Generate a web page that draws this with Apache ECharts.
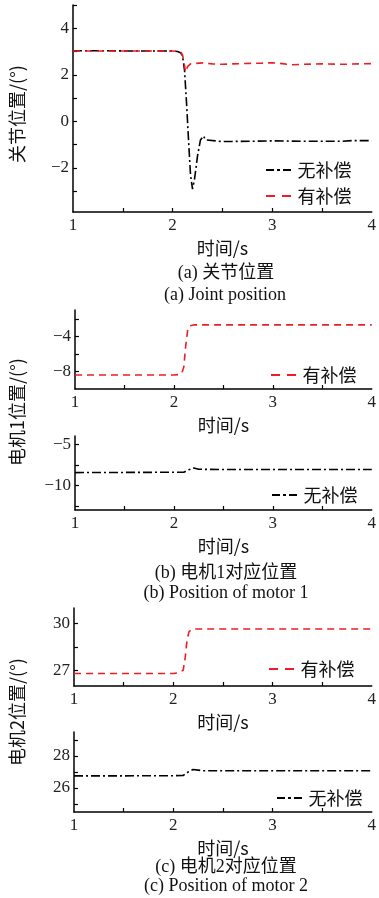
<!DOCTYPE html>
<html><head><meta charset="utf-8">
<script src="https://cdn.jsdelivr.net/npm/echarts@6/dist/echarts.min.js"></script>
<style>html,body{margin:0;padding:0;background:#fff}#c{width:379px;height:898px}</style>
</head><body><div id="c"></div>
<script>
// ---- data ----
const nameNo = '无补偿';
const nameYes = '有补偿';
// (a) joint position
const jTimeNo = [1.0,1.2,1.4,1.6,1.8,2.0,2.05,2.08,2.1,2.12,2.14,2.16,2.18,2.2,2.22,2.25,2.28,2.31,2.33,2.35,2.5,2.8,3.0,3.3,3.5,3.7,3.8,4.0];
const jValNo  = [3.03,3.03,3.03,3.02,3.02,3.02,3.0,2.95,2.8,2.2,0.8,-0.8,-2.3,-2.92,-2.5,-1.5,-0.8,-0.63,-0.8,-0.87,-0.87,-0.86,-0.84,-0.86,-0.86,-0.86,-0.83,-0.83];
const jTimeYes = [1.0,1.2,1.4,1.6,1.8,2.0,2.05,2.08,2.1,2.12,2.13,2.15,2.18,2.3,2.4,2.5,2.6,2.8,2.9,3.0,3.1,3.2,3.3,3.5,3.7,4.0];
const jValYes  = [3.02,3.02,3.02,3.02,3.02,3.02,3.01,2.98,2.85,2.4,2.12,2.35,2.47,2.51,2.47,2.45,2.47,2.49,2.5,2.52,2.48,2.43,2.45,2.47,2.45,2.48];
// (b) motor 1
const m1TimeYes = [1.0,1.5,2.0,2.05,2.08,2.1,2.12,2.14,2.16,2.2,2.5,3.0,3.5,4.0];
const m1ValYes  = [-8.4,-8.4,-8.4,-8.35,-8.2,-7.5,-5.0,-3.2,-2.8,-2.7,-2.7,-2.7,-2.7,-2.7];
const m1TimeNo = [1.0,1.5,2.0,2.1,2.15,2.2,2.25,2.5,3.0,3.5,4.0];
const m1ValNo  = [-8.45,-8.43,-8.41,-8.4,-8.1,-7.9,-8.05,-8.07,-8.07,-8.07,-8.07];
// (c) motor 2
const m2TimeYes = [1.0,1.5,2.0,2.05,2.1,2.12,2.14,2.16,2.2,2.5,3.0,3.5,4.0];
const m2ValYes  = [26.8,26.8,26.8,26.85,27.0,27.8,29.0,29.5,29.65,29.65,29.65,29.65,29.65];
const m2TimeNo = [1.0,1.5,2.0,2.1,2.15,2.2,2.3,2.5,3.0,3.5,4.0];
const m2ValNo  = [26.76,26.76,26.77,26.78,27.0,27.16,27.08,27.08,27.08,27.08,27.08];
// tick labels
const xLabels = [1,2,3,4];
const xTicks = [1.5,2,2.5,3,3.5];
const y1Labels = [-2,0,2,4];   const y1Ticks = [-3,-2,-1,0,1,2,3,4,5];
const y2Labels = [-8,-4];      const y2Ticks = [-8,-6,-4,-2];
const y3Labels = [-10,-5];     const y3Ticks = [-12.5,-10,-7.5,-5];
const y4Labels = [27,30];      const y4Ticks = [27,28.5,30];
const y5Labels = [26,28];      const y5Ticks = [25,26,27,28,29];

const pair = (t, v) => t.map((x, i) => [x, v[i]]);
const FONT = "'Liberation Serif','Noto Sans CJK SC',serif";
const CJK = "'Noto Sans CJK SC','Liberation Serif',sans-serif";
const dashDot = [9,3,2,3];
const dashed = [7,5];
const iconNo = 'path://M0,0h8v2h-8z M11,0h3v2h-3z M17,0h8v2h-8z';
const iconYes = 'path://M0,0h9v2h-9z M16,0h9v2h-9z';

const grids = [
  {left:73, width:299, top:5, height:207},
  {left:75, width:301, top:310, height:79},
  {left:75, width:301, top:436, height:74},
  {left:74, width:298, top:608, height:78},
  {left:74, width:298, top:732, height:80}
];
const axisLine = {show:true, onZero:false, lineStyle:{color:'#000', width:1.5}};
function xAx(i){
  return {type:'value', gridIndex:i, min:1, max:4, interval:0.5,
    axisLine, splitLine:{show:false},
    axisTick:{show:true, inside:true, length:4, customValues:xTicks, lineStyle:{color:'#000',width:1.2}},
    axisLabel:{customValues:xLabels, color:'#222', fontFamily:FONT, fontSize:17, margin:5},
    name:'时间/s', nameLocation:'middle', nameGap:27,
    nameTextStyle:{fontFamily:CJK, fontSize:18, color:'#111', verticalAlign:'top'}};
}
function yAx(i, min, max, labels, ticks){
  return {type:'value', gridIndex:i, min, max,
    axisLine, splitLine:{show:false},
    axisTick:{show:true, inside:true, length:4, customValues:ticks, lineStyle:{color:'#000',width:1.2}},
    axisLabel:{customValues:labels, color:'#222', fontFamily:FONT, fontSize:17, margin:4,
      formatter: v => (v < 0 ? '\u2212' + (-v) : '' + v)}};
}
function ser(name, i, data, color, type){
  return {name, type:'line', xAxisIndex:i, yAxisIndex:i, data, showSymbol:false, symbol:'none',
    lineStyle:{color, width:1.6, type}, itemStyle:{color}, animation:false};
}
function legend(items, left, top){
  return {data:items, left, top, orient:'vertical', itemWidth:26, itemHeight:2, itemGap:8,
    textStyle:{fontFamily:CJK, fontSize:18, color:'#111', padding:[0,0,0,1]}};
}
const legNo = {name:nameNo, icon:iconNo, itemStyle:{color:'#000'}};
const legYes = {name:nameYes, icon:iconYes, itemStyle:{color:'#ee1c25'}};

const option = {
  animation:false,
  grid: grids,
  xAxis: [0,1,2,3,4].map(xAx),
  yAxis: [
    yAx(0, -3.9, 5, y1Labels, y1Ticks),
    yAx(1, -10, -1, y2Labels, y2Ticks),
    yAx(2, -13, -4, y3Labels, y3Ticks),
    yAx(3, 26, 31, y4Labels, y4Ticks),
    yAx(4, 24.5, 29.5, y5Labels, y5Ticks)
  ],
  legend: [
    legend([legNo, legYes], 261, 156),
    legend([legYes], 266, 361),
    legend([legNo], 267, 481),
    legend([legYes], 264, 655),
    legend([legNo], 272, 784)
  ],
  series: [
    ser(nameNo, 0, pair(jTimeNo, jValNo), '#000', dashDot),
    ser(nameYes, 0, pair(jTimeYes, jValYes), '#ee1c25', dashed),
    ser(nameYes, 1, pair(m1TimeYes, m1ValYes), '#ee1c25', dashed),
    ser(nameNo, 2, pair(m1TimeNo, m1ValNo), '#000', dashDot),
    ser(nameYes, 3, pair(m2TimeYes, m2ValYes), '#ee1c25', dashed),
    ser(nameNo, 4, pair(m2TimeNo, m2ValNo), '#000', dashDot)
  ],
  graphic: [
    {type:'text', x:17, y:114, rotation:Math.PI/2, style:{text:'关节位置/(°)', font:"18px "+CJK, fill:'#111', align:'center', verticalAlign:'middle'}},
    {type:'text', x:17, y:412, rotation:Math.PI/2, style:{text:'电机1位置/(°)', font:"18px "+CJK, fill:'#111', align:'center', verticalAlign:'middle'}},
    {type:'text', x:17, y:712, rotation:Math.PI/2, style:{text:'电机2位置/(°)', font:"18px "+CJK, fill:'#111', align:'center', verticalAlign:'middle'}},
    {type:'text', x:226, y:273, style:{text:'(a) 关节位置', font:"18px "+FONT, fill:'#111', align:'center', verticalAlign:'middle'}},
    {type:'text', x:225, y:295, style:{text:'(a) Joint position', font:"18px "+FONT, fill:'#111', align:'center', verticalAlign:'middle'}},
    {type:'text', x:226, y:573, style:{text:'(b) 电机1对应位置', font:"18px "+FONT, fill:'#111', align:'center', verticalAlign:'middle'}},
    {type:'text', x:226, y:593, style:{text:'(b) Position of motor 1', font:"18px "+FONT, fill:'#111', align:'center', verticalAlign:'middle'}},
    {type:'text', x:226, y:867, style:{text:'(c) 电机2对应位置', font:"18px "+FONT, fill:'#111', align:'center', verticalAlign:'middle'}},
    {type:'text', x:226, y:886, style:{text:'(c) Position of motor 2', font:"18px "+FONT, fill:'#111', align:'center', verticalAlign:'middle'}}
  ]
};
const chart = echarts.init(document.getElementById('c'), null, {renderer:'canvas'});
chart.setOption(option);
</script></body></html>
